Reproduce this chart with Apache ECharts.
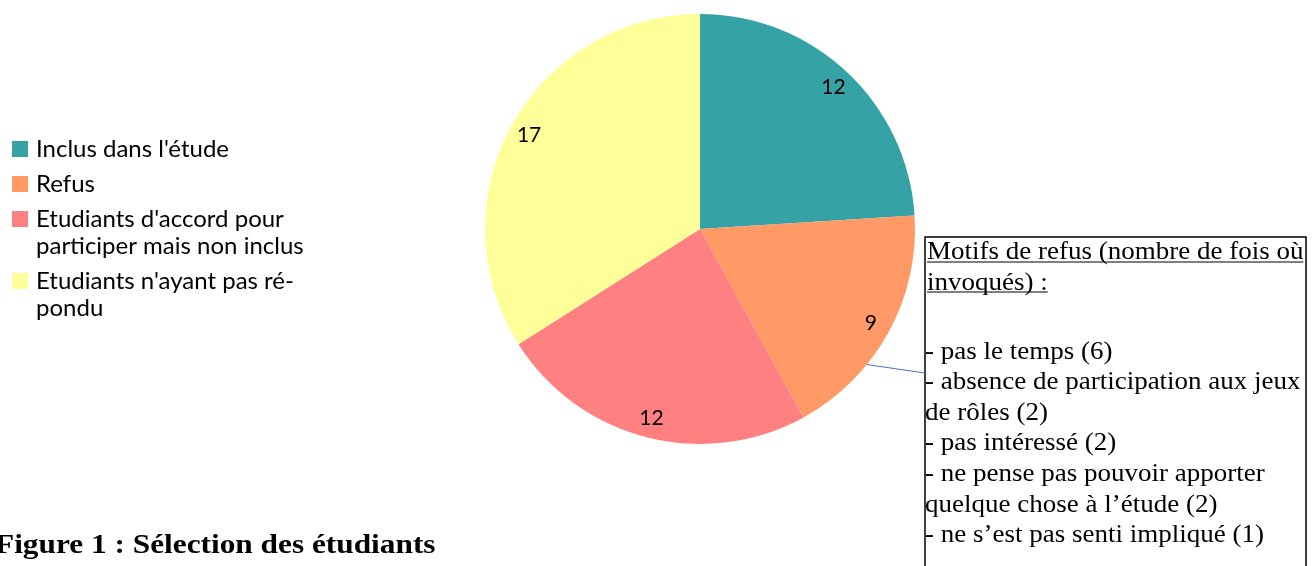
<!DOCTYPE html>
<html>
<head>
<meta charset="utf-8">
<script src="https://cdn.jsdelivr.net/npm/echarts@6/dist/echarts.min.js"></script>
<style>
  html, body { margin: 0; padding: 0; background: #fff; }
  #chart { width: 1315px; height: 566px; }
</style>
</head>
<body>
<div id="chart"></div>
<script>
const categories = ['Inclus dans l\'étude', 'Refus', 'Etudiants d\'accord pour\nparticiper mais non inclus', 'Etudiants n\'ayant pas ré-\npondu']
const values = [12, 9, 12, 17]
const colors = ['#35A3A5', '#FF9966', '#FF8080', '#FFFF99']
const title = 'Figure 1 : Sélection des étudiants'
const noteTitle = ['Motifs de refus (nombre de fois où', 'invoqués) :']
const noteLines = [
  '- pas le temps (6)',
  '- absence de participation aux jeux',
  'de rôles (2)',
  '- pas intéressé (2)',
  '- ne pense pas pouvoir apporter',
  'quelque chose à l\u2019étude (2)',
  '- ne s\u2019est pas senti impliqué (1)'
]

const pieData = categories.map((name, i) => ({ name, value: values[i], itemStyle: { color: colors[i] } }))

const noteFont = '25px "Liberation Serif"'
const noteScale = 1.08
const ctx = document.createElement('canvas').getContext('2d')
ctx.font = noteFont

const graphics = []

// legend drawn by hand so the square sits on the first line
let y = 149
categories.forEach((name, i) => {
  graphics.push({ type: 'rect', shape: { x: 12, y: y - 8, width: 16, height: 16 }, style: { fill: colors[i] } })
  graphics.push({
    type: 'text', x: 36, y: y - 13.5,
    style: { text: name, font: '24px Lato', fill: '#000', lineHeight: 27, verticalAlign: 'top' }
  })
  y += name.split('\n').length * 27 + 8
})

// note box
const boxX = 925
const boxY = 237
graphics.push({ type: 'rect', shape: { x: boxX, y: boxY, width: 381, height: 360 }, style: { fill: '#fff', stroke: '#000', lineWidth: 1.5 } })
const noteRows = [
  { t: noteTitle[0], y: 252, x: 927 },
  { t: noteTitle[1], y: 283, x: 927 }
].concat(noteLines.map((t, i) => ({ t, y: 352 + i * 30.6, x: 925 })))
noteRows.forEach(r => {
  graphics.push({
    type: 'text', x: r.x, y: r.y, scaleX: noteScale,
    style: { text: r.t, font: noteFont, fill: '#000', verticalAlign: 'middle' }
  })
})
noteTitle.forEach((t, i) => {
  const w = ctx.measureText(t).width * noteScale
  const ly = 262 + i * 30
  graphics.push({ type: 'line', shape: { x1: 927, y1: ly, x2: 927 + w, y2: ly }, style: { stroke: '#000', lineWidth: 1 } })
})
// leader line
graphics.push({ type: 'line', shape: { x1: 863, y1: 364, x2: boxX, y2: 373 }, style: { stroke: '#4472C4', lineWidth: 1 } })

// figure caption
graphics.push({
  type: 'text', x: -5, y: 546, scaleX: 1.16,
  style: { text: title, font: 'bold 27px "Liberation Serif"', fill: '#000', verticalAlign: 'middle' }
})

const chart = echarts.init(document.getElementById('chart'))
chart.setOption({
  animation: false,
  series: [
    {
      type: 'pie',
      center: [700, 229],
      radius: [0, 215],
      startAngle: 90,
      clockwise: true,
      silent: true,
      label: { show: false },
      labelLine: { show: false },
      itemStyle: { borderWidth: 0 },
      data: pieData
    },
    {
      // transparent ring used only to place the value labels near the rim
      type: 'pie',
      center: [700, 229],
      radius: [139, 245],
      startAngle: 90,
      clockwise: true,
      silent: true,
      itemStyle: { color: 'transparent', borderWidth: 0 },
      label: {
        show: true, position: 'inside', formatter: '{v|{c}}',
        rich: { v: { fontFamily: 'Lato', fontSize: 21, color: '#000' } }
      },
      labelLine: { show: false },
      data: categories.map((name, i) => ({ name, value: values[i] }))
    }
  ],
  graphic: graphics
})
</script>
</body>
</html>
